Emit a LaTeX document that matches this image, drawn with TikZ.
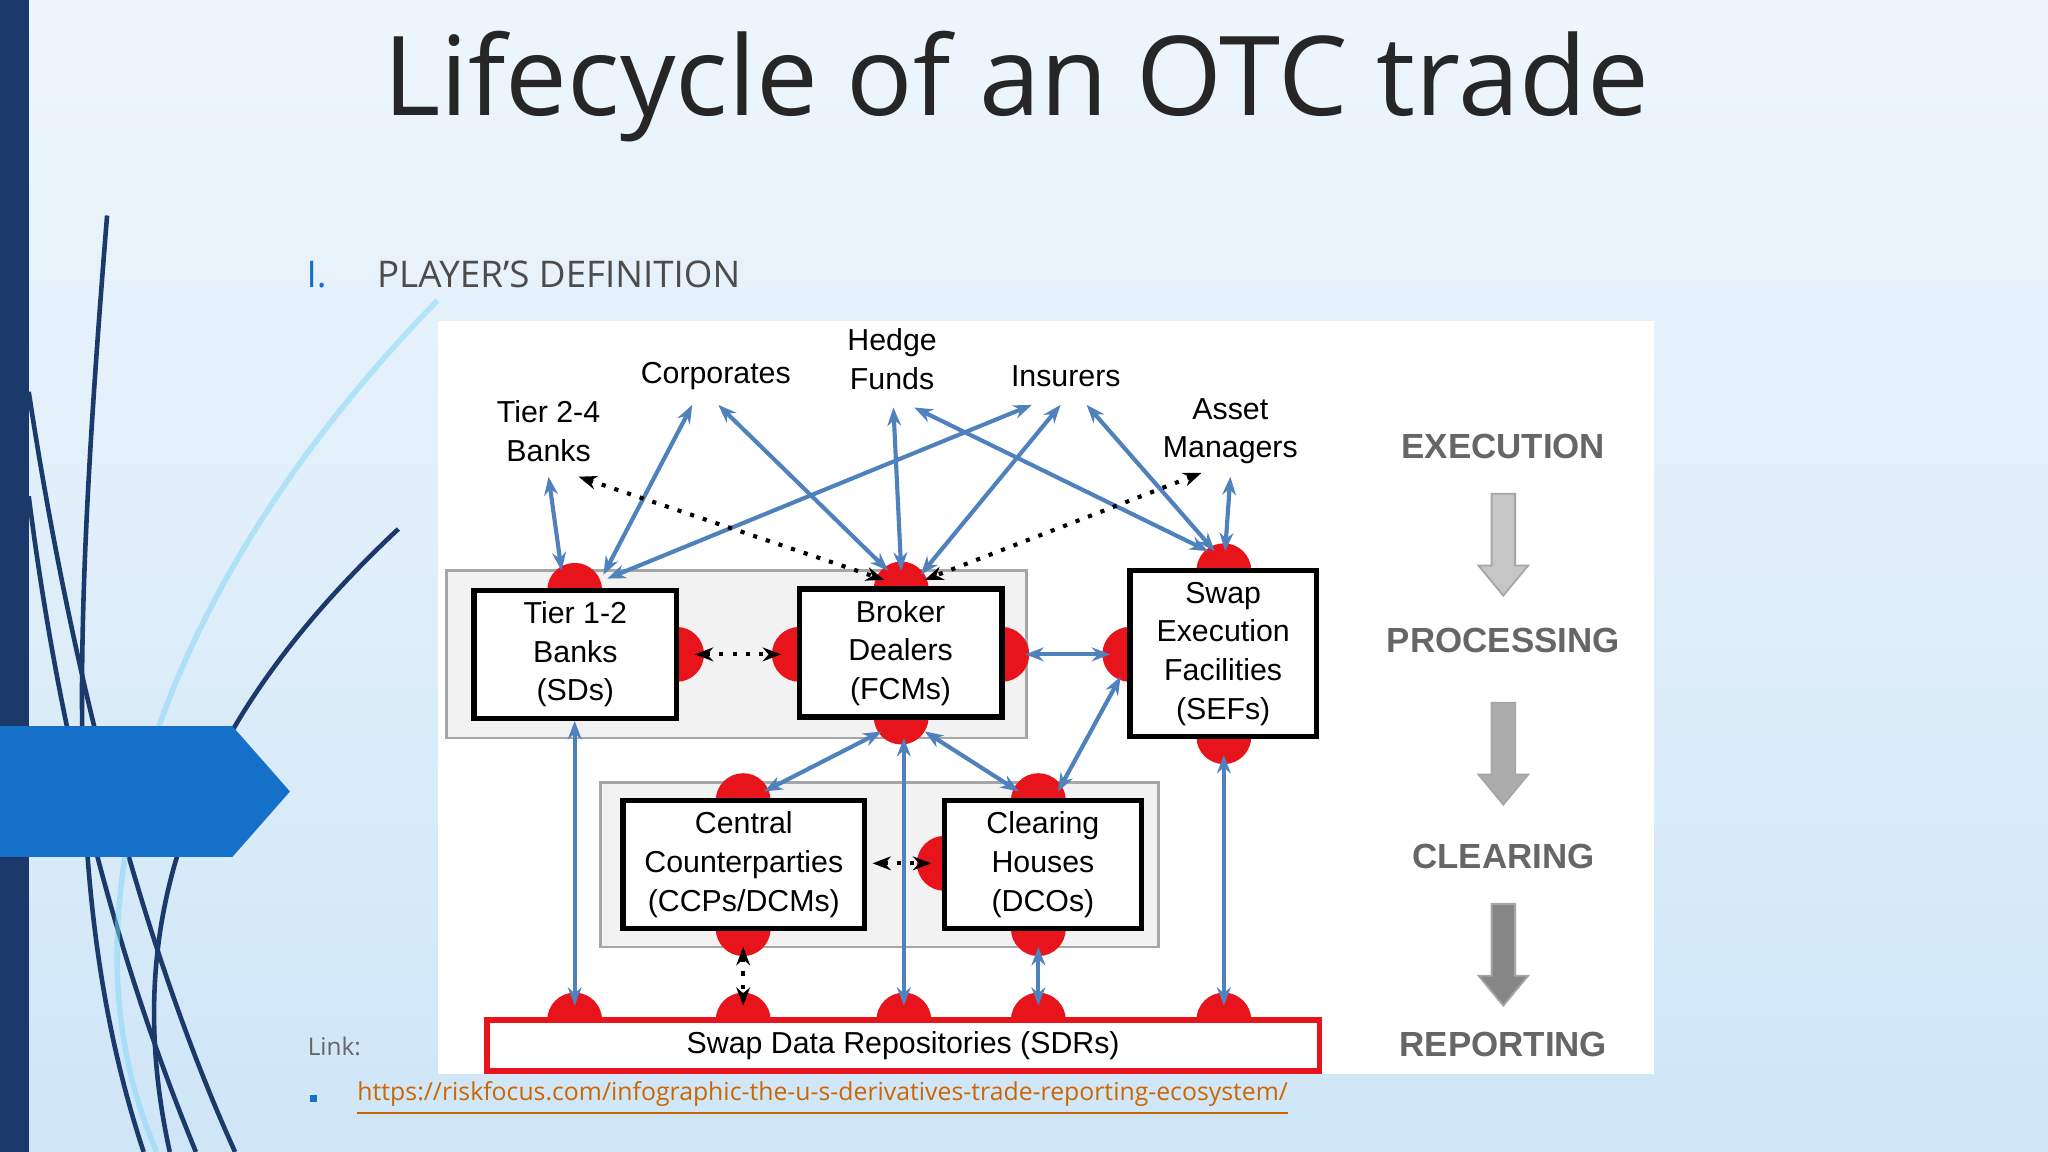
\documentclass[tikz,border=0pt]{standalone}
\usepackage{fontspec}
\setmainfont{Liberation Sans}
\newfontfamily\titlefont{Open Sans}
\usetikzlibrary{arrows.meta}
\definecolor{navy}{HTML}{1B3A6B}
\definecolor{pblue}{HTML}{1470C8}
\definecolor{abl}{HTML}{4F81BD}
\definecolor{dred}{HTML}{E8141B}
\definecolor{bgtop}{HTML}{EEF6FC}
\definecolor{bgbot}{HTML}{CFE6F7}
\tikzset{
  P/.style={x=0.01cm,y=-0.01cm},
  box/.style={draw=black,line width=1.2pt,fill=white,align=center,font=\fontsize{6.6}{8.4}\selectfont,inner sep=0pt},
  dot/.style={circle,fill=dred,minimum size=0.42cm,inner sep=0pt},
  lab/.style={align=center,font=\fontsize{6.6}{8.4}\selectfont},
  ba/.style={abl,line width=0.9pt,{Stealth[length=4pt]}-{Stealth[length=4pt]}},
  da/.style={black,line width=0.9pt,dotted,{Stealth[length=4pt]}-{Stealth[length=4pt]}},
  grp/.style={draw=gray!70,fill=gray!10,line width=0.6pt},
  stage/.style={font=\bfseries\fontsize{7.6}{9}\selectfont,text=gray!80!black}
}
\begin{document}
\begin{tikzpicture}[P]
\useasboundingbox (0,0) rectangle (1568,882);
\shade[top color=bgtop,bottom color=bgbot] (0,0) rectangle (1568,882);
\fill[navy] (0,0) rectangle (22,882);
% decorative curves
\draw[navy,line width=1pt] (82,165) .. controls (55,500) and (50,700) .. (110,882);
\draw[navy,line width=1pt] (305,405) .. controls (150,550) and (90,700) .. (130,882);
\draw[navy,line width=1pt] (22,300) .. controls (60,550) and (120,750) .. (180,882);
\draw[navy,line width=1pt] (22,380) .. controls (50,600) and (100,760) .. (150,882);
\draw[white!50!cyan,line width=1.2pt,opacity=0.5] (335,230) .. controls (120,450) and (40,700) .. (120,882);
\fill[pblue] (0,556) -- (178,556) -- (222,606) -- (178,656) -- (0,656) -- cycle;
% title
\node[font=\titlefont\fontsize{24}{28}\selectfont,text=black!85] (title) at (778,66) {Lifecycle of an OTC trade};
\node[font=\titlefont\fontsize{8}{10}\selectfont,text=pblue,anchor=west,inner sep=0pt] (roman) at (234,210) {I.};
\node[font=\titlefont\fontsize{8}{10}\selectfont,text=black!70,anchor=west,inner sep=0pt] (sub) at (288,210) {PLAYER’S DEFINITION};
% panel
\fill[white] (335,246) rectangle (1266,822);
\draw[grp] (342,437) rectangle (786,565);
\draw[grp] (460,599) rectangle (887,725);
% dots
\foreach \x/\y in {440/452,518/501,612/501,690/451,767/501,690/549,865/501,937/437,937/564,569/613,569/711,795/613,723/661,795/711,440/781,569/781,692/781,795/781,937/781}
  \node[dot] at (\x,\y) {};
% boxes
\node[box,minimum width=1.55cm,minimum height=0.98cm] (t1) at (440.5,501) {Tier 1-2\\Banks\\(SDs)};
\node[box,minimum width=1.55cm,minimum height=0.98cm] (bd) at (689.5,500) {Broker\\Dealers\\(FCMs)};
\node[box,minimum width=1.43cm,minimum height=1.27cm] (sef) at (936.5,500.5) {Swap\\Execution\\Facilities\\(SEFs)};
\node[box,minimum width=1.85cm,minimum height=0.98cm] (ccp) at (569.5,662) {Central\\Counterparties\\(CCPs/DCMs)};
\node[box,minimum width=1.51cm,minimum height=0.98cm] (ch) at (798.5,662) {Clearing\\Houses\\(DCOs)};
\node[box,draw=dred,minimum width=6.37cm,minimum height=0.39cm] (sdr) at (691.5,800.5) {Swap Data Repositories (SDRs)};
% labels
\node[lab] (t24) at (420,330) {Tier 2-4\\Banks};
\node[lab] (corp) at (548,288) {Corporates};
\node[lab] (hf) at (683,275) {Hedge\\Funds};
\node[lab] (ins) at (816,288) {Insurers};
\node[lab] (am) at (942,330) {Asset\\Managers};
% connectors
\draw[ba] (420,365) -- (430,437);
\draw[ba] (530,310) -- (462,440);
\draw[ba] (550,310) -- (680,437);
\draw[ba] (684,312) -- (690,437);
\draw[ba] (700,312) -- (925,422);
\draw[ba] (790,310) -- (465,443);
\draw[ba] (812,310) -- (705,440);
\draw[ba] (832,310) -- (930,422);
\draw[ba] (942,365) -- (938,422);
\draw[da] (443,365) -- (677,444);
\draw[da] (920,362) -- (708,444);
\draw[da] (532,501) -- (598,501);
\draw[da] (668,661) -- (713,661);
\draw[da] (569,725) -- (569,770);
\draw[ba] (785,501) -- (850,501);
\draw[ba] (675,560) -- (585,606);
\draw[ba] (708,560) -- (780,606);
\draw[ba] (810,606) -- (858,518);
\draw[ba] (440,552) -- (440,770);
\draw[ba] (692,565) -- (692,770);
\draw[ba] (795,725) -- (795,770);
\draw[ba] (937,578) -- (937,770);
% stages
\node[stage] (s1) at (1151,342) {EXECUTION};
\node[stage] (s2) at (1151,490) {PROCESSING};
\node[stage] (s3) at (1151,656) {CLEARING};
\node[stage] (s4) at (1151,800) {REPORTING};
\foreach \t/\c in {378/gray!45,538/gray!65,692/gray!95}
  \fill[\c,draw=gray!70,line width=0.4pt] (1142,\t) -- (1160,\t) -- (1160,\t+55) -- (1170,\t+55) -- (1151,\t+78) -- (1132,\t+55) -- (1142,\t+55) -- cycle;
% link
\node[font=\titlefont\fontsize{5.3}{6}\selectfont,text=black!60,anchor=west,inner sep=0pt] (lk) at (235,801) {Link:};
\fill[pblue] (237,838) rectangle (243,844);
\node[font=\titlefont\fontsize{5.4}{6}\selectfont,text=orange!80!black,anchor=west,inner sep=0pt] (url) at (273,841) {\underline{https://riskfocus.com/infographic-the-u-s-derivatives-trade-reporting-ecosystem/}};
\end{tikzpicture}
\end{document}
